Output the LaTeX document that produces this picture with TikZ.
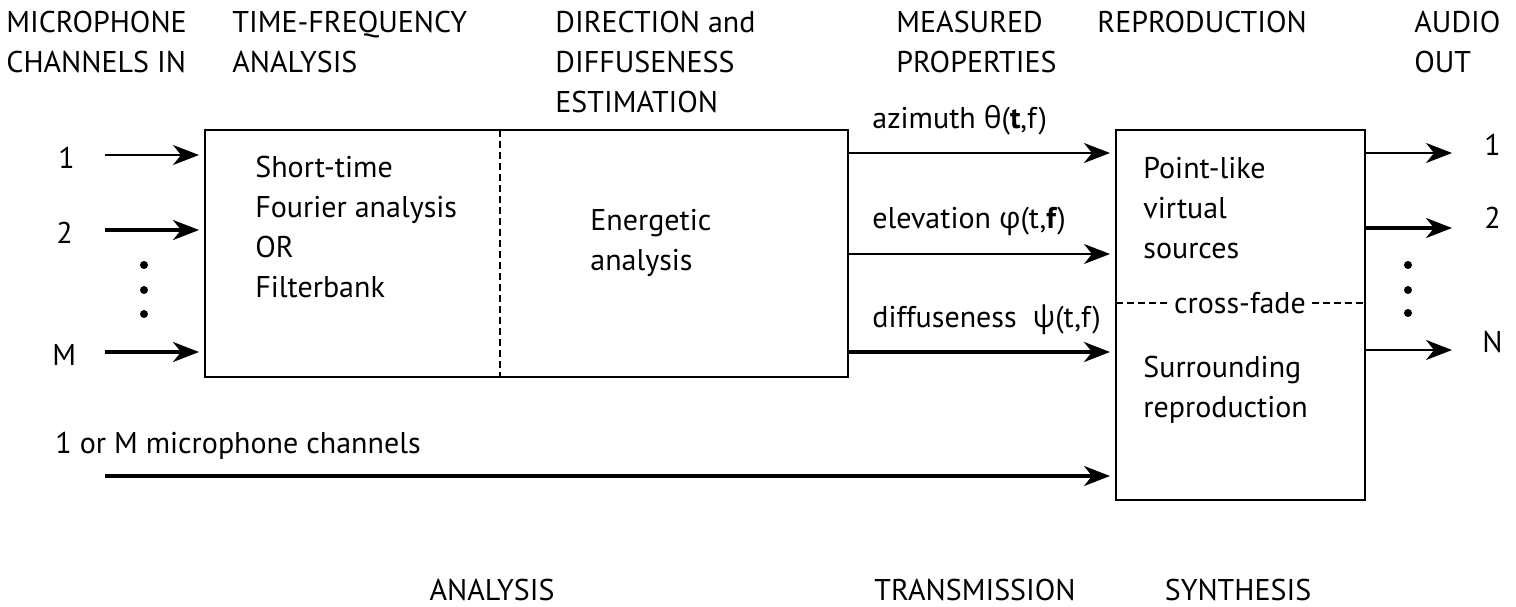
\documentclass[tikz,border=0pt]{standalone}
\usepackage{fontspec}
\setmainfont{PT Sans}
\newfontfamily\gr{Open Sans}
\usetikzlibrary{arrows.meta}
\begin{document}
\begin{tikzpicture}[x=0.5pt,y=-0.5pt,
  txt/.style={inner sep=0pt, anchor=base west, align=left, font=\fontsize{15}{20}\selectfont},
  ctxt/.style={inner sep=0pt, anchor=base, font=\fontsize{15}{20}\selectfont},
  blk/.style={draw, line width=1.1pt, inner sep=0pt, outer sep=0pt, anchor=north west},
  arr/.style={-{Stealth[length=13pt,width=10pt,inset=4pt]}, line width=1.1pt, shorten >=3pt},
  arrb/.style={arr, line width=1.6pt},
  dot/.style={circle, fill, inner sep=0pt, minimum size=4pt},
  sep/.style={dash pattern=on 3.5pt off 2pt, line width=0.6pt}]
\useasboundingbox (0,0) rectangle (1516,606);
% headers (anchor = baseline of last line; line pitch 40)
\node[txt] (h1) at (6,72) {MICROPHONE\\CHANNELS IN};
\node[txt] (h2) at (232,72) {TIME-FREQUENCY\\ANALYSIS};
\node[txt] (h3) at (555,112) {DIRECTION and\\DIFFUSENESS\\ESTIMATION};
\node[txt] (h4) at (896,72) {MEASURED\\PROPERTIES};
\node[txt] (h5) at (1097,32) {REPRODUCTION};
\node[txt] (h6) at (1414,72) {AUDIO\\OUT};
% blocks
\node[blk, minimum width=321.5pt, minimum height=123.5pt] (b1) at (205,130) {};
\node[blk, minimum width=124.5pt, minimum height=185pt] (b2) at (1116,130) {};
\coordinate (dv) at (500,0);
\draw[sep] (b1.north -| dv) -- (b1.south -| dv);
\node[txt] (t1) at (255,297) {Short-time\\Fourier analysis\\OR\\Filterbank};
\node[txt] (t2) at (590,270) {Energetic\\analysis};
\node[txt] (t3) at (1143,258) {Point-like\\virtual\\sources};
\node[txt] (t4) at (1143,417) {Surrounding\\reproduction};
\node[inner sep=3pt, fill=white, font=\fontsize{15}{16}\selectfont] (cf) at (1240,303) {cross-fade};
\draw[sep] (b2.west |- cf) -- (cf.west);
\draw[sep] (cf.east) -- (b2.east |- cf);
% inputs
\node[txt] (n1) at (58,168) {1};
\node[txt] (n2) at (56,243) {2};
\node[txt] (nM) at (52,365) {M};
\coordinate (i1) at (105,155);
\coordinate (i2) at (105,230);
\coordinate (iM) at (105,352);
\draw[arr] (i1) -- (i1 -| b1.west);
\draw[arrb] (i2) -- (i2 -| b1.west);
\draw[arrb] (iM) -- (iM -| b1.west);
\node[dot] (d1) at (144,265) {};
\node[dot] (d2) at (144,290) {};
\node[dot] (d3) at (144,314) {};
% measured properties
\coordinate (m1) at (848,153);
\coordinate (m2) at (848,254);
\coordinate (m3) at (848,352);
\draw[arr] (m1) -- (m1 -| b2.west);
\draw[arr] (m2) -- (m2 -| b2.west);
\draw[arrb] (m3) -- (m3 -| b2.west);
\node[txt] (l1) at (872,128) {azimuth {\gr θ}(\textbf{t},f)};
\node[txt] (l2) at (872,228) {elevation {\gr φ}(t,\textbf{f})};
\node[txt] (l3) at (872,327) {diffuseness\ \ {\gr ψ}(t,f)};
% outputs
\coordinate (o1) at (1365,153);
\coordinate (o2) at (1365,228);
\coordinate (oN) at (1365,350);
\coordinate (oe) at (1458,0);
\draw[arr] (o1) -- (o1 -| oe);
\draw[arrb] (o2) -- (o2 -| oe);
\draw[arr] (oN) -- (oN -| oe);
\node[txt] (p1) at (1484,155) {1};
\node[txt] (p2) at (1484,228) {2};
\node[txt] (pN) at (1482,352) {N};
\node[dot] (e1) at (1408,265) {};
\node[dot] (e2) at (1408,290) {};
\node[dot] (e3) at (1408,313) {};
% bypass
\node[txt] (byl) at (55,453) {1 or M microphone channels};
\coordinate (bs) at (105,476);
\draw[arrb] (bs) -- (bs -| b2.west);
% bottom
\node[ctxt] (f1) at (492,600) {ANALYSIS};
\node[ctxt] (f2) at (975,600) {TRANSMISSION};
\node[ctxt] (f3) at (1238,600) {SYNTHESIS};
\end{tikzpicture}
\end{document}
